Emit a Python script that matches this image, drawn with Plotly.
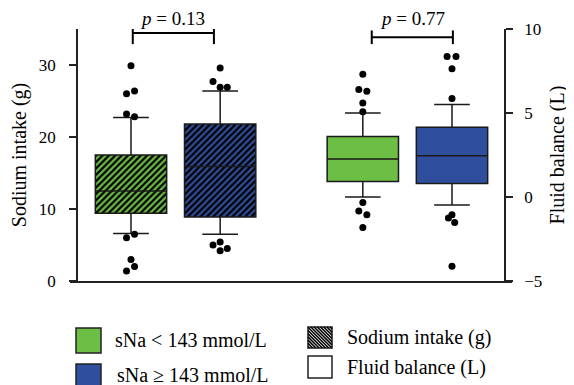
import plotly.graph_objects as go

# ---------------- data ----------------
groups = ["sNa < 143 mmol/L", "sNa \u2265 143 mmol/L"]
group_colors = ["#6cbe45", "#2f4f9e"]

# Sodium intake (g) - left axis
sod_ticks = [0, 10, 20, 30]
sod_pos = [1.0, 2.0]
sod_q1 = [9.4, 8.9]
sod_med = [12.5, 15.9]
sod_q3 = [17.5, 21.8]
sod_lo = [6.6, 6.5]
sod_hi = [22.7, 26.4]
sod_out_green = [29.9, 26.0, 26.4, 23.2, 22.8, 6.0, 6.5, 3.0, 2.0, 1.4]
sod_off_green = [0.0, -0.05, 0.04, -0.05, 0.04, -0.05, 0.04, 0.0, 0.04, -0.05]
sod_out_blue = [29.6, 27.7, 26.9, 26.9, 5.0, 5.4, 4.5, 4.2]
sod_off_blue = [0.0, -0.08, 0.0, 0.08, -0.08, 0.0, 0.08, 0.0]

# Fluid balance (L) - right axis
flu_ticks = [-5, 0, 5, 10]
flu_pos = [3.6, 4.6]
flu_q1 = [0.93, 0.8]
flu_med = [2.26, 2.46]
flu_q3 = [3.6, 4.15]
flu_lo = [0.0, -0.48]
flu_hi = [5.0, 5.5]
flu_out_green = [7.3, 6.4, 6.3, 5.6, 5.08, -0.33, -0.83, -1.05, -1.82]
flu_off_green = [0.0, -0.045, 0.045, 0.0, 0.0, 0.0, -0.045, 0.045, 0.0]
flu_out_blue = [8.37, 8.37, 7.64, 5.86, -1.05, -1.25, -1.52, -4.12]
flu_off_blue = [-0.055, 0.045, 0.0, 0.0, 0.0, -0.04, 0.03, 0.0]

p_labels = ["<i>p</i> = 0.13", "<i>p</i> = 0.77"]
legend_right = ["Sodium intake (g)", "Fluid balance (L)"]

FONT = "Liberation Serif"
PAGE_W, PAGE_H = 574, 385
OFF = 8  # default body margin of the html page
W, H = PAGE_W - OFF, PAGE_H - OFF
# plot area in page pixels: x 70..512, y 29..281
PL, PR, PT, PB = 70, 512, 29, 281
ML, MR, MT, MB = PL - OFF, PAGE_W - PR, PT - OFF, PAGE_H - PB
BOXW = 0.80

def pxx(x):
    return (x - PL) / (PR - PL)

def pxy(y):
    return (PB - y) / (PB - PT)

fig = go.Figure()

# patterned fill for sodium boxes (bars from q1 to q3)
for i in range(2):
    fig.add_trace(go.Bar(
        x=[sod_pos[i]], y=[sod_q3[i] - sod_q1[i]], base=[sod_q1[i]],
        width=BOXW, yaxis="y", xaxis="x",
        marker=dict(color=group_colors[i], line=dict(width=0),
                    pattern=dict(shape="/", fgcolor="black", bgcolor=group_colors[i],
                                 fillmode="replace", size=4.5, solidity=0.5)),
        showlegend=False, hoverinfo="skip"))

# sodium boxes outlines / whiskers / medians
for i in range(2):
    fig.add_trace(go.Box(
        x=[sod_pos[i]], q1=[sod_q1[i]], median=[sod_med[i]], q3=[sod_q3[i]],
        lowerfence=[sod_lo[i]], upperfence=[sod_hi[i]], orientation="v",
        width=BOXW, whiskerwidth=0.5, boxpoints=False,
        fillcolor="rgba(0,0,0,0)", line=dict(color="#1a1a1a", width=1.5),
        yaxis="y", showlegend=False))

fig.add_trace(go.Scatter(x=[sod_pos[0] + o for o in sod_off_green], y=sod_out_green,
                         mode="markers", marker=dict(color="black", size=7),
                         yaxis="y", showlegend=False))
fig.add_trace(go.Scatter(x=[sod_pos[1] + o for o in sod_off_blue], y=sod_out_blue,
                         mode="markers", marker=dict(color="black", size=7),
                         yaxis="y", showlegend=False))

# fluid balance boxes
for i in range(2):
    fig.add_trace(go.Box(
        x=[flu_pos[i]], q1=[flu_q1[i]], median=[flu_med[i]], q3=[flu_q3[i]],
        lowerfence=[flu_lo[i]], upperfence=[flu_hi[i]], orientation="v",
        width=BOXW, whiskerwidth=0.5, boxpoints=False,
        fillcolor=group_colors[i], line=dict(color="#1a1a1a", width=1.5),
        yaxis="y2", showlegend=False))

fig.add_trace(go.Scatter(x=[flu_pos[0] + o for o in flu_off_green], y=flu_out_green,
                         mode="markers", marker=dict(color="black", size=7),
                         yaxis="y2", showlegend=False))
fig.add_trace(go.Scatter(x=[flu_pos[1] + o for o in flu_off_blue], y=flu_out_blue,
                         mode="markers", marker=dict(color="black", size=7),
                         yaxis="y2", showlegend=False))

shapes = []
# significance brackets
brackets = [(1.02, 1.93, 34.45, 32.9, 35.0), (3.70, 4.61, 33.85, 32.9, 34.8)]
for xa, xb, yl, yv0, yv1 in brackets:
    shapes.append(dict(type="line", xref="x", yref="y", x0=xa, x1=xb, y0=yl, y1=yl,
                       line=dict(color="black", width=2)))
    for xv in (xa, xb):
        shapes.append(dict(type="line", xref="x", yref="y", x0=xv, x1=xv, y0=yv0, y1=yv1,
                           line=dict(color="black", width=2)))

annotations = []
for xc, txt in zip([1.47, 4.156], p_labels):
    annotations.append(dict(x=xc, y=pxy(19), xref="x", yref="paper", text=txt,
                            showarrow=False, xanchor="center", yanchor="middle",
                            font=dict(family=FONT, size=19, color="black")))

# custom legend
def rect(x0, y0, x1, y1, fill):
    return dict(type="rect", xref="paper", yref="paper",
                x0=pxx(x0), x1=pxx(x1), y0=pxy(y1), y1=pxy(y0),
                fillcolor=fill, line=dict(color="#222", width=1.5))

shapes.append(rect(76, 328, 101, 353, group_colors[0]))
shapes.append(rect(76, 364, 101, 390, group_colors[1]))
shapes.append(rect(308, 327, 332, 348, "white"))
shapes.append(rect(308, 356, 332, 378, "white"))

# hatch for the sodium legend swatch
hx0, hy0, hw, hh = 308, 327, 24, 21
segs = []
c = -hh + 1.5
while c <= hw:
    u0, u1 = max(0, c), min(hw, hh + c)
    if u1 > u0:
        xa, ya = hx0 + u0, hy0 + (u0 - c)
        xb, yb = hx0 + u1, hy0 + (u1 - c)
        segs.append("M%.5f,%.5f L%.5f,%.5f" % (pxx(xa), pxy(ya), pxx(xb), pxy(yb)))
    c += 3.2
shapes.append(dict(type="path", xref="paper", yref="paper", path=" ".join(segs),
                   line=dict(color="black", width=1.6)))

leg_text = [(113, 340, groups[0]), (115, 375, groups[1]),
            (345, 337, legend_right[0]), (345, 367, legend_right[1])]
for x, y, t in leg_text:
    annotations.append(dict(x=pxx(x), y=pxy(y), xref="paper", yref="paper", text=t,
                            showarrow=False, xanchor="left", yanchor="middle",
                            font=dict(family=FONT, size=20, color="black")))

axis_line = dict(showline=True, linecolor="#222", linewidth=1.5, showgrid=False,
                 zeroline=False)

fig.update_layout(
    width=W, height=H,
    margin=dict(l=ML, r=MR, t=MT, b=MB),
    paper_bgcolor="white", plot_bgcolor="white",
    font=dict(family=FONT, size=17, color="black"),
    barmode="overlay", boxmode="overlay",
    showlegend=False,
    xaxis=dict(range=[0.316, 5.273], showticklabels=False, ticks="",
               domain=[0, 1], **axis_line),
    yaxis=dict(range=[0, 35], tickvals=sod_ticks, ticks="outside", ticklen=7,
               tickwidth=1.5, tickcolor="#222", anchor="free", position=0.0158,
               ticklabelstandoff=10, automargin=False,
               title=dict(text="Sodium intake (g)", font=dict(size=20), standoff=9),
               **axis_line),
    yaxis2=dict(range=[-5, 10], tickvals=flu_ticks, ticks="outside", ticklen=7,
                tickwidth=1.5, tickcolor="#222", overlaying="y", side="right",
                anchor="free", position=0.9842, ticklabelstandoff=8, automargin=False,
                title=dict(text="Fluid balance (L)", font=dict(size=20), standoff=8),
                **axis_line),
    shapes=shapes, annotations=annotations,
)

fig.write_html("out.html")
